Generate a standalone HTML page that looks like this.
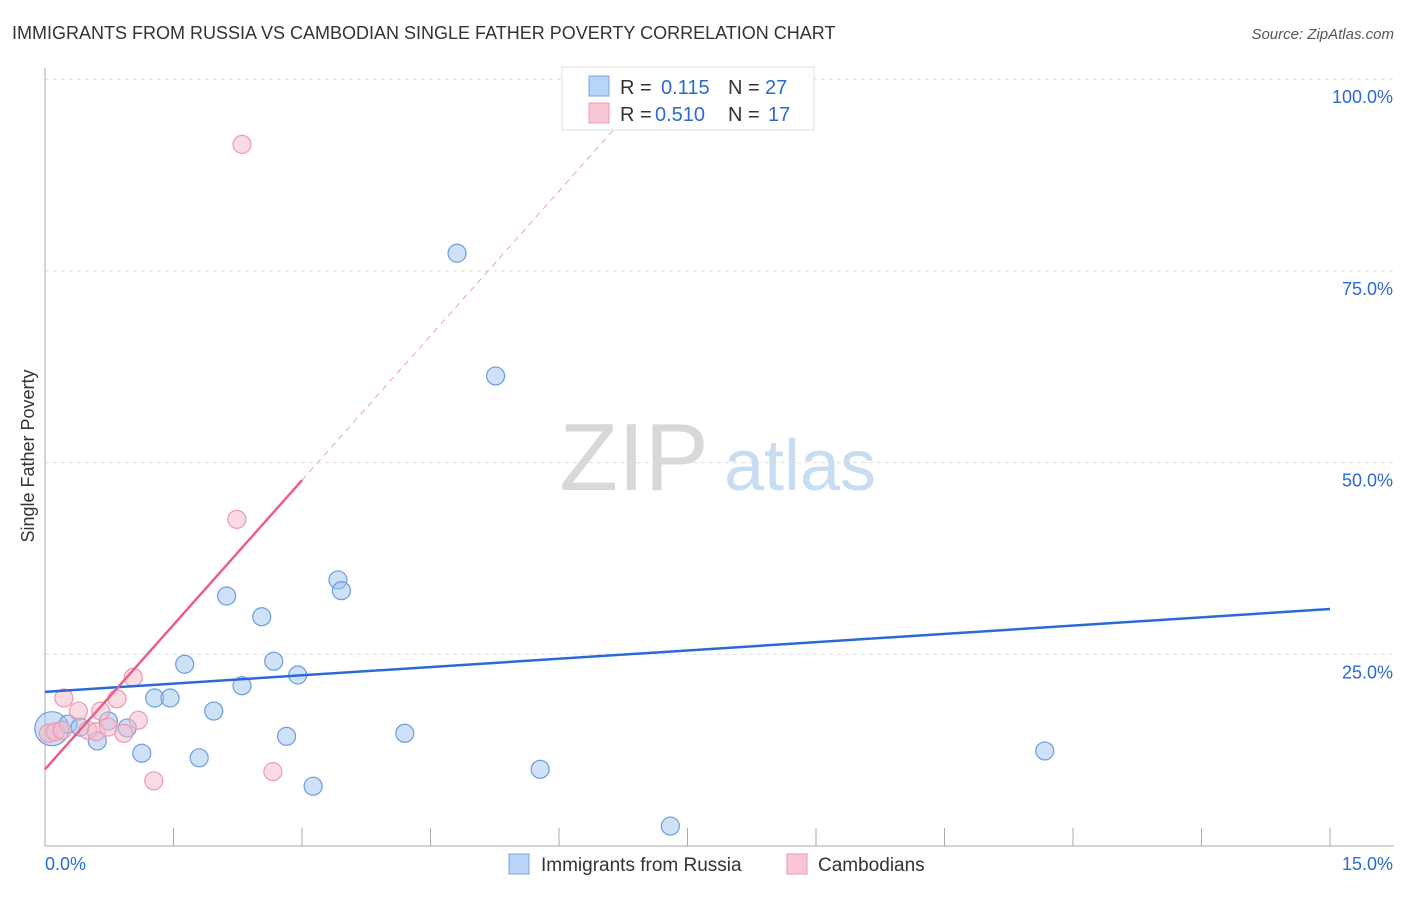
<!DOCTYPE html>
<html><head><meta charset="utf-8"><style>
body{margin:0;background:#fff;font-family:"Liberation Sans",sans-serif;}
svg text{font-family:"Liberation Sans",sans-serif;}
</style></head><body>
<svg id="chart" width="1406" height="892" xmlns="http://www.w3.org/2000/svg">
<text x="12" y="39" font-size="18" fill="#333">IMMIGRANTS FROM RUSSIA VS CAMBODIAN SINGLE FATHER POVERTY CORRELATION CHART</text>
<text x="1394" y="39" font-size="15" fill="#555" font-style="italic" text-anchor="end">Source: ZipAtlas.com</text>
<text transform="translate(34,456) rotate(-90)" font-size="18" fill="#333" text-anchor="middle">Single Father Poverty</text>
<g>
<text x="634" y="490" font-size="96" fill="#d8d8d8" font-family="Liberation Serif" text-anchor="middle">ZIP</text>
<text x="800" y="490" font-size="72" fill="#c8dcf2" text-anchor="middle">atlas</text>
</g>
<g id="grid"></g>
<g id="axes"></g>
<g id="marks"></g>
<g>
<rect x="562" y="67" width="252" height="63" fill="#fff" stroke="#ddd"/>
<rect x="589" y="76" width="20" height="20" fill="#b8d4f6" stroke="#7aa6e0"/>
<rect x="589" y="103" width="20" height="20" fill="#f8c6d4" stroke="#eb9ab2"/>
<text x="620" y="94" font-size="20" fill="#333">R = </text><text x="661" y="94" font-size="20" fill="#2a6ad4">0.115</text>
<text x="728" y="94" font-size="20" fill="#333">N = </text><text x="765" y="94" font-size="20" fill="#2a6ad4">27</text>
<text x="620" y="121" font-size="20" fill="#333">R = </text><text x="655" y="121" font-size="20" fill="#2a6ad4">0.510</text>
<text x="728" y="121" font-size="20" fill="#333">N = </text><text x="768" y="121" font-size="20" fill="#2a6ad4">17</text>
</g>
<g>
<rect x="509" y="854" width="20" height="20" fill="#b8d4f6" stroke="#7aa6e0"/>
<text x="541" y="871" font-size="19" fill="#333">Immigrants from Russia</text>
<rect x="787" y="854" width="20" height="20" fill="#f8c6d4" stroke="#eb9ab2"/>
<text x="818" y="871" font-size="19" fill="#333">Cambodians</text>
</g>
</svg>
<script>
const xTickValues=[0,1.5,3,4.5,6,7.5,9,10.5,12,13.5,15];
const yTickValues=[25,50,75,100];
const yTickLabels=["25.0%","50.0%","75.0%","100.0%"];
const russiaX=[0.08,0.27,0.41,0.61,0.74,0.96,1.13,1.28,1.46,1.63,1.80,1.97,2.12,2.30,2.53,2.67,2.82,2.95,3.13,3.42,3.46,4.20,4.81,5.26,5.78,7.30,11.67];
const russiaY=[15.3,15.9,15.5,13.7,16.3,15.4,12.1,19.3,19.3,23.7,11.5,17.6,32.6,20.9,29.9,24.1,14.3,22.3,7.8,34.7,33.3,14.7,77.3,61.3,10.0,2.6,12.4];
const cambX=[0.04,0.12,0.22,0.39,0.50,0.60,0.65,0.74,0.84,0.92,1.03,1.09,1.27,2.24,2.30,2.66,0.20];
const cambY=[14.7,14.9,19.3,17.6,15.1,14.9,17.6,15.5,19.2,14.7,22.0,16.4,8.5,42.6,91.5,9.7,15.1];
const russiaTrend=[20.1,30.9];
const cambTrend=[10.0,47.7];
const NS="http://www.w3.org/2000/svg";
const sx=v=>45+v/15*1285, sy=v=>846-v/25*191.7;
function mk(tag,attrs,parent){const e=document.createElementNS(NS,tag);for(const k in attrs)e.setAttribute(k,attrs[k]);document.getElementById(parent).appendChild(e);return e;}
let e;
e=mk('line',{x1:45,y1:68,x2:45,y2:846,stroke:'#aaa'},'axes');


e=mk('line',{x1:45,y1:846,x2:1394,y2:846,stroke:'#aaa'},'axes');


xTickValues.forEach((v,i)=>{if(i===0)return;
 const t=mk('line',{x1:sx(v),y1:828,x2:sx(v),y2:846,stroke:'#aaa'},'axes');
 
 });
e=mk('text',{x:45,y:870,'font-size':18,fill:'#2a6ad4'},'axes');e.textContent='0.0%';


e=mk('text',{x:1393,y:870,'font-size':18,fill:'#2a6ad4','text-anchor':'end'},'axes');e.textContent='15.0%';


yTickValues.forEach((v,i)=>{
 const g=mk('line',{x1:45,y1:sy(v),x2:1394,y2:sy(v),stroke:'#ddd','stroke-dasharray':'4,4'},'grid');
 
 
 const t=mk('text',{x:1393,y:sy(v)+24,'font-size':18,fill:'#2a6ad4','text-anchor':'end'},'axes');t.textContent=yTickLabels[i];
 
 });
russiaX.forEach((x,i)=>{const big=i===0;
 const c=mk('circle',{cx:sx(x),cy:sy(russiaY[i]),r:big?17:9,fill:'rgba(160,196,240,0.5)',stroke:'#6a9ce0','stroke-width':1.2},'marks');
 
 });
cambX.forEach((x,i)=>{
 const c=mk('circle',{cx:sx(x),cy:sy(cambY[i]),r:9,fill:'rgba(246,184,202,0.5)',stroke:'#eb9ab2','stroke-width':1.2},'marks');
 
 });
e=mk('line',{x1:sx(0),y1:sy(russiaTrend[0]),x2:sx(15),y2:sy(russiaTrend[1]),stroke:'#2a6ad4','stroke-width':2.5},'marks');


const slope=(cambTrend[1]-cambTrend[0])/3, xEnd=(100-cambTrend[0])/slope;
e=mk('line',{x1:sx(3),y1:sy(cambTrend[1]),x2:sx(xEnd),y2:sy(100),stroke:'#f0a0b8','stroke-width':1,'stroke-dasharray':'6,5'},'marks');


e=mk('line',{x1:sx(0),y1:sy(cambTrend[0]),x2:sx(3),y2:sy(cambTrend[1]),stroke:'#e8608a','stroke-width':2.5},'marks');


</script>
</body></html>
